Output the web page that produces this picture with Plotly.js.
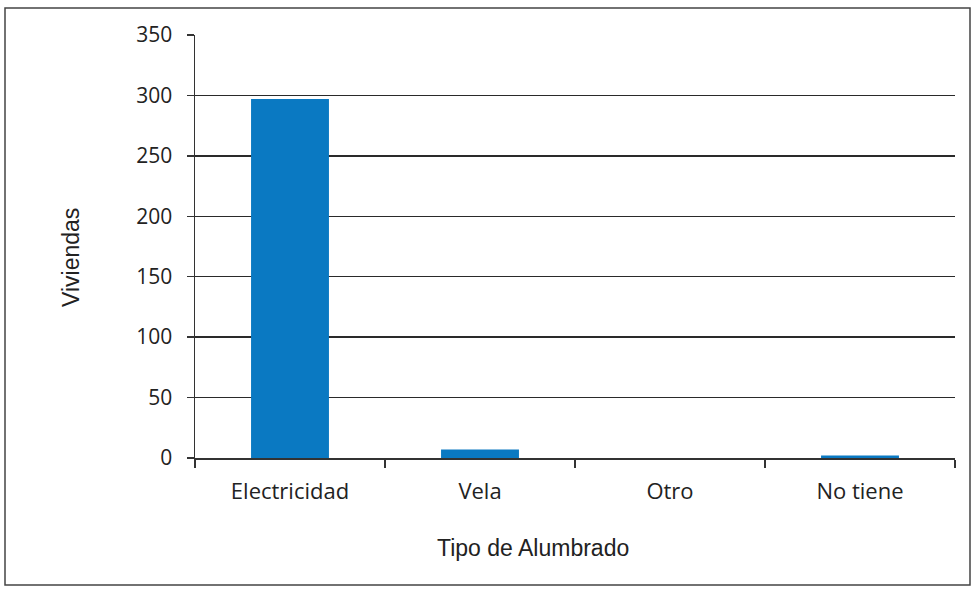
<!DOCTYPE html>
<html><head><meta charset="utf-8">
<script src="https://cdn.plot.ly/plotly-3.0.1.min.js"></script>
<style>html,body{margin:0;padding:0;background:#fff}</style>
</head><body>
<div id="chart" style="width:974px;height:594px"></div>
<script>
const categories = ["Electricidad", "Vela", "Otro", "No tiene"];
const viviendas = [297, 7, 0, 2];
const yTicks = [0, 50, 100, 150, 200, 250, 300, 350];
const xTitle = 'Tipo de Alumbrado';
const yTitle = 'Viviendas';

const L = 195, R = 955, T = 35, B = 458, W = 974, H = 594;
const px = x => (x - L) / (R - L);
const py = y => (B - y) / (B - T);
const titleFont = {family: '"Liberation Sans", Arial, sans-serif', size: 23, color: '#222'};

Plotly.newPlot('chart', [{
  type: 'bar',
  x: categories,
  y: viviendas,
  marker: {color: '#0a79c2'},
  width: 0.41,
  hoverinfo: 'x+y'
}], {
  width: W, height: H,
  margin: {l: L, r: W - R, t: T, b: H - B},
  paper_bgcolor: '#fff', plot_bgcolor: '#fff',
  showlegend: false,
  xaxis: {
    type: 'category',
    showline: true, linecolor: '#333', linewidth: 1.5,
    ticks: 'outside', tickson: 'boundaries', ticklen: 8, tickcolor: '#333', tickwidth: 1.5,
    ticklabelstandoff: 13,
    tickfont: {family: '"Open Sans", Lato, sans-serif', size: 22, color: '#222'},
    showgrid: false
  },
  yaxis: {
    range: [0, 350],
    tickvals: yTicks,
    showline: true, linecolor: '#333', linewidth: 1.5,
    ticks: 'outside', ticklen: 7, tickcolor: '#333', tickwidth: 1.5,
    ticklabelstandoff: 10,
    tickfont: {family: '"Open Sans", Lato, sans-serif', size: 21, color: '#222'},
    showgrid: true, gridcolor: '#2a2a2a', gridwidth: 1.5,
    zeroline: false
  },
  annotations: [
    {text: xTitle, xref: 'paper', yref: 'paper', x: px(533), y: py(548),
     xanchor: 'center', yanchor: 'middle', showarrow: false, font: titleFont},
    {text: yTitle, xref: 'paper', yref: 'paper', x: px(71), y: py(258), textangle: -90,
     xanchor: 'center', yanchor: 'middle', showarrow: false, font: titleFont}
  ],
  shapes: [{
    type: 'rect', xref: 'paper', yref: 'paper',
    x0: px(5), x1: px(970), y0: py(585), y1: py(8),
    line: {color: '#444', width: 1.5}, fillcolor: 'rgba(0,0,0,0)', layer: 'below'
  }]
}, {staticPlot: true});
</script>
</body></html>
